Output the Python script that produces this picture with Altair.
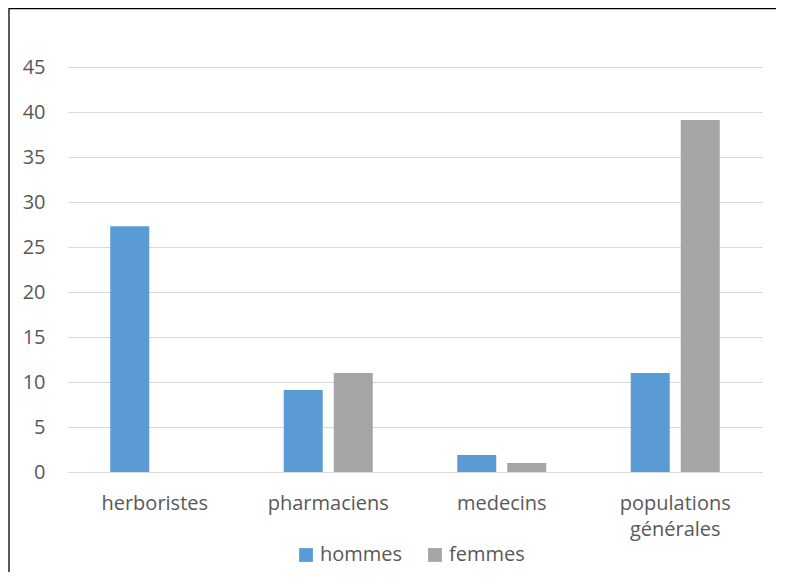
import altair as alt
import pandas as pd

categories = ["herboristes", "pharmaciens", "medecins", "populations générales"]
hommes = [27.3, 9.1, 1.9, 11.0]
femmes = [0.0, 11.0, 1.0, 39.1]
series = ["hommes", "femmes"]
colors = ["#5B9BD5", "#A5A5A5"]
y_ticks = [0, 5, 10, 15, 20, 25, 30, 35, 40, 45]

rows = []
for i, c in enumerate(categories):
    rows.append({"cat": c, "serie": "hommes", "val": hommes[i]})
    rows.append({"cat": c, "serie": "femmes", "val": femmes[i]})
df = pd.DataFrame(rows)

W, H = 694, 405
FONT = "Open Sans"

bars = alt.Chart(df).mark_bar().encode(
    x=alt.X("cat:N", sort=categories, title=None,
            scale=alt.Scale(paddingInner=0.487, paddingOuter=0.2435),
            axis=alt.Axis(labelAngle=0, ticks=False, domain=True, domainColor="#D9D9D9",
                          domainWidth=1.2, labelFont=FONT, labelFontSize=20,
                          labelColor="#595959", labelPadding=21,
                          labelExpr="split(datum.label, ' ')", labelLineHeight=26)),
    xOffset=alt.XOffset("serie:N", sort=series, scale=alt.Scale(paddingInner=0.22, paddingOuter=0)),
    y=alt.Y("val:Q", title=None,
            scale=alt.Scale(domain=[0, 45], nice=False),
            axis=alt.Axis(values=y_ticks, ticks=False, domain=False, gridColor="#D9D9D9",
                          gridWidth=1.2, labelFont=FONT, labelFontSize=20,
                          labelColor="#595959", labelPadding=23)),
    color=alt.Color("serie:N", sort=series,
                    scale=alt.Scale(domain=series, range=colors),
                    legend=alt.Legend(title=None, orient="none", direction="horizontal",
                                      legendX=228, legendY=478, symbolType="square",
                                      symbolSize=190, symbolStrokeWidth=0,
                                      labelFont=FONT, labelFontSize=20,
                                      labelColor="#595959", labelOffset=4,
                                      columnPadding=22)),
)

border = alt.Chart(alt.Data(values=[{}])).mark_rect(
    fillOpacity=0, stroke="black", strokeWidth=1.3
).encode(
    x=alt.value(-59), x2=alt.value(2000), y=alt.value(-58.5), y2=alt.value(2000)
)

chart = alt.layer(bars, border).properties(
    width=W, height=H,
    autosize=alt.AutoSizeParams(type="none"),
    padding={"left": 60, "top": 59, "right": 14, "bottom": 100},
).configure_view(stroke=None)

chart.save("out.html", embed_options={"renderer": "svg", "actions": False})
